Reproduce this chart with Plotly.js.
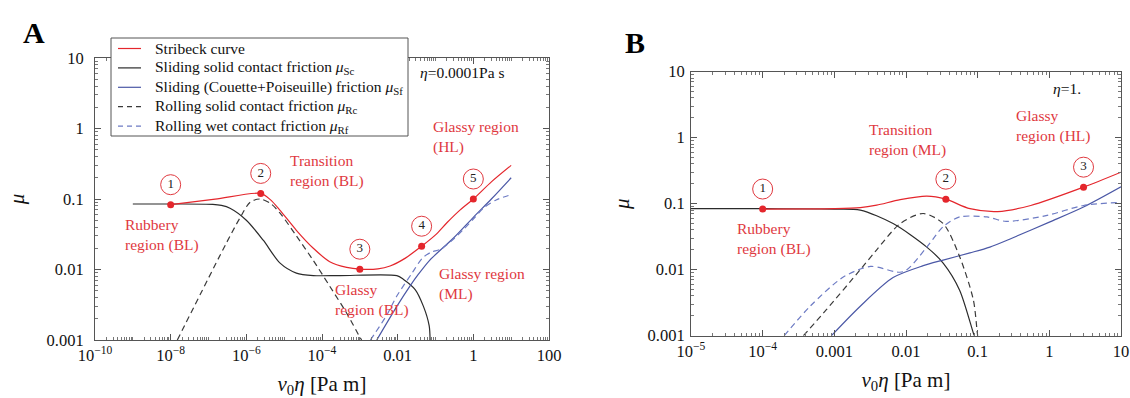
<!DOCTYPE html>
<html><head><meta charset="utf-8">
<script src="https://cdn.plot.ly/plotly-3.0.1.min.js"></script>
<style>html,body{margin:0;padding:0;background:#fff}#chart{width:1130px;height:398px}</style>
</head><body><div id="chart"></div>
<script>
// ---------- Panel A (eta = 0.0001 Pa s) ----------
const aStribeckX = [1e-8, 1.5e-7, 2.4e-6, 4.3e-6, 7.8e-6, 2.1e-5, 5.9e-5, 1.6e-4, 4.5e-4, 1e-3, 3e-3, 6.3e-3, 1.6e-2, 4.3e-2, 0.1, 0.2, 0.45, 1, 3, 10];
const aStribeckY = [0.083, 0.0995, 0.12, 0.098, 0.069, 0.036, 0.02, 0.0129, 0.0107, 0.0101, 0.0102, 0.0112, 0.0145, 0.0214, 0.031, 0.046, 0.07, 0.1, 0.175, 0.3];
const aScX = [1e-9, 1e-8, 1.3e-7, 2.2e-7, 3.7e-7, 1e-6, 2.8e-6, 7.8e-6, 2.1e-5, 5.9e-5, 3e-4, 9.5e-3, 1.4e-2, 2.9e-2, 4.8e-2, 6.8e-2, 7.2e-2];
const aScY = [0.085, 0.085, 0.084, 0.081, 0.074, 0.05, 0.026, 0.0123, 0.0089, 0.0082, 0.0082, 0.0082, 0.0073, 0.0052, 0.003, 0.0016, 0.001];
const aSfX = [2.8e-3, 9.5e-3, 0.022, 0.035, 0.07, 0.3, 1, 3, 10];
const aSfY = [0.001, 0.003, 0.006, 0.0085, 0.0135, 0.028, 0.055, 0.1, 0.2];
const aRcX = [1.5e-8, 3e-7, 6.8e-7, 1.26e-6, 2.3e-6, 4.3e-6, 7.8e-6, 2.1e-5, 5.9e-5, 1.6e-4, 4.5e-4, 1e-3, 1.12e-3];
const aRcY = [0.001, 0.024, 0.054, 0.09, 0.1, 0.087, 0.063, 0.03, 0.0134, 0.0058, 0.0024, 0.0011, 0.001];
const aRfX = [1.9e-3, 5e-3, 9.5e-3, 0.024, 0.045, 0.075, 0.14, 0.3, 0.55, 1, 1.9, 4, 8.5];
const aRfY = [0.001, 0.0022, 0.0042, 0.0089, 0.0145, 0.0175, 0.0195, 0.027, 0.037, 0.052, 0.075, 0.097, 0.112];
const aDotX = [1e-8, 2.4e-6, 1e-3, 4.3e-2, 1];
const aDotY = [0.083, 0.12, 0.0101, 0.0214, 0.1];
const aDotLabels = ['1', '2', '3', '4', '5'];
const aXTickVals = [1e-10, 1e-8, 1e-6, 1e-4, 1e-2, 1, 100];
const aXTickText = ['10<sup>\u221210</sup>', '10<sup>\u22128</sup>', '10<sup>\u22126</sup>', '10<sup>\u22124</sup>', '0.01', '1', '100'];

// ---------- Panel B (eta = 1) ----------
const bStribeckX = [1e-4, 1e-3, 2.3e-3, 3.9e-3, 8.3e-3, 0.0195, 0.036, 0.078, 0.19, 0.55, 3, 10];
const bStribeckY = [0.083, 0.084, 0.087, 0.095, 0.115, 0.13, 0.117, 0.084, 0.076, 0.094, 0.178, 0.3];
const bScX = [1e-5, 1e-4, 1e-3, 2.3e-3, 6.6e-3, 0.0195, 0.033, 0.056, 0.087, 0.09];
const bScY = [0.084, 0.084, 0.083, 0.08, 0.05, 0.022, 0.0126, 0.0049, 0.0011, 0.001];
const bSfX = [9.1e-4, 2.3e-3, 6.6e-3, 0.0174, 0.033, 0.078, 0.148, 0.3, 1.02, 3, 10];
const bSfY = [0.001, 0.0028, 0.0076, 0.0115, 0.014, 0.018, 0.022, 0.03, 0.053, 0.089, 0.18];
const bRcX = [3.7e-4, 7.8e-4, 2.3e-3, 3.9e-3, 8.3e-3, 0.0174, 0.033, 0.056, 0.087, 0.098, 0.1];
const bRcY = [0.001, 0.0025, 0.01, 0.02, 0.05, 0.071, 0.05, 0.0158, 0.0035, 0.0012, 0.001];
const bRfX = [2e-4, 4.6e-4, 1.35e-3, 3.2e-3, 9.1e-3, 0.0195, 0.033, 0.056, 0.135, 0.25, 0.9, 3, 10];
const bRfY = [0.001, 0.0028, 0.0078, 0.0112, 0.0093, 0.022, 0.045, 0.063, 0.063, 0.054, 0.066, 0.094, 0.105];
const bDotX = [1e-4, 0.036, 3];
const bDotY = [0.083, 0.117, 0.178];
const bDotLabels = ['1', '2', '3'];
const bXTickVals = [1e-5, 1e-4, 1e-3, 1e-2, 0.1, 1, 10];
const bXTickText = ['10<sup>\u22125</sup>', '10<sup>\u22124</sup>', '0.001', '0.01', '0.1', '1', '10'];

const yTickVals = [0.001, 0.01, 0.1, 1, 10];
const yTickText = ['0.001', '0.01', '0.1', '1', '10'];

const seriesNames = ['Stribeck curve',
  'Sliding solid contact friction <i>\u03bc</i><sub>Sc</sub>',
  'Sliding (Couette+Poiseuille) friction <i>\u03bc</i><sub>Sf</sub>',
  'Rolling solid contact friction <i>\u03bc</i><sub>Rc</sub>',
  'Rolling wet contact friction <i>\u03bc</i><sub>Rf</sub>'];

// ---------- styling ----------
const FONT = "'Liberation Serif', 'Times New Roman', serif";
const RED = '#e4262c', LRED = '#e0393f', BLACK = '#2b2b2b', DBLACK = '#3a3a3a', BLUE = '#4b58a6', DBLUE = '#6d7bc4';
const seriesColors = [RED, BLACK, BLUE, DBLACK, DBLUE];
const seriesDash = ['solid', 'solid', 'solid', '5px,4px', '5px,4px'];
const DASH = '6px,4px';

const W = 1130, H = 398;
const domA = {x: [95 / W, 549 / W], y: [1 - 340 / H, 1 - 58 / H]};
const domB = {x: [691 / W, 1121 / W], y: [1 - 335.7 / H, 1 - 71.7 / H]};
const CIRCLE_LIFT = 20; // px above the dot

function minorVals(lo, hi) {
  const v = [];
  for (let e = lo; e < hi; e++) for (let d = 1; d <= 9; d++) v.push(d * Math.pow(10, e));
  return v;
}

function lineTrace(x, y, color, dash, xa, ya) {
  return {x: x, y: y, type: 'scatter', mode: 'lines',
    line: {color: color, width: 1.2, dash: dash, shape: 'spline', smoothing: 0.8},
    xaxis: xa, yaxis: ya, showlegend: false, hoverinfo: 'skip'};
}
function dotTrace(x, y, xa, ya) {
  return {x: x, y: y, type: 'scatter', mode: 'markers', marker: {color: RED, size: 7},
    xaxis: xa, yaxis: ya, showlegend: false, hoverinfo: 'skip'};
}
function circleTrace(x, y, labels, dom, xa, ya) {
  const pxPerDecade = (dom.y[1] - dom.y[0]) * H / 4;
  const f = Math.pow(10, CIRCLE_LIFT / pxPerDecade);
  return {x: x, y: y.map(v => v * f), text: labels, type: 'scatter', mode: 'markers+text',
    textposition: 'middle center', textfont: {family: FONT, size: 13, color: '#222'},
    marker: {symbol: 'circle-open', size: 20, color: LRED, line: {width: 1, color: LRED}},
    xaxis: xa, yaxis: ya, showlegend: false, hoverinfo: 'skip', cliponaxis: false};
}

const traces = [
  lineTrace(aScX, aScY, BLACK, 'solid', 'x', 'y'),
  lineTrace(aSfX, aSfY, BLUE, 'solid', 'x', 'y'),
  lineTrace(aRcX, aRcY, DBLACK, DASH, 'x', 'y'),
  lineTrace(aRfX, aRfY, DBLUE, DASH, 'x', 'y'),
  lineTrace(aStribeckX, aStribeckY, RED, 'solid', 'x', 'y'),
  dotTrace(aDotX, aDotY, 'x', 'y'),
  circleTrace(aDotX, aDotY, aDotLabels, domA, 'x', 'y'),
  lineTrace(bScX, bScY, BLACK, 'solid', 'x2', 'y2'),
  lineTrace(bSfX, bSfY, BLUE, 'solid', 'x2', 'y2'),
  lineTrace(bRcX, bRcY, DBLACK, DASH, 'x2', 'y2'),
  lineTrace(bRfX, bRfY, DBLUE, DASH, 'x2', 'y2'),
  lineTrace(bStribeckX, bStribeckY, RED, 'solid', 'x2', 'y2'),
  dotTrace(bDotX, bDotY, 'x2', 'y2'),
  circleTrace(bDotX, bDotY, bDotLabels, domB, 'x2', 'y2')
];

function axis(extra) {
  return Object.assign({
    type: 'log', showline: true, linecolor: '#555', linewidth: 1, mirror: 'ticks',
    ticks: 'inside', ticklen: 6, tickcolor: '#555', showgrid: false, zeroline: false,
    tickmode: 'array', tickfont: {family: FONT, size: 16.5, color: '#111'}
  }, extra);
}
function minor(lo, hi) {
  return {ticks: 'inside', ticklen: 3, tickcolor: '#777', tickmode: 'array', tickvals: minorVals(lo, hi), showgrid: false};
}

const xTitle = '<i>v</i><sub>0</sub><i>\u03b7</i> [Pa m]';
const yTitle = '<i>\u03bc</i>';
const titleFont = {family: FONT, size: 21, color: '#111'};

const annotations = [];
const shapes = [];

function label(text, xa, ya, x, y, color) {
  annotations.push({xref: xa, yref: ya, x: x, y: y, text: text, showarrow: false,
    xanchor: 'left', yanchor: 'middle', align: 'left',
    font: {family: FONT, size: 15.5, color: color || LRED}});
}
label('Rubbery<br>region (BL)', 'x', 'y', -9.25, -1.51);
label('Transition<br>region (BL)', 'x', 'y', -4.9, -0.60);
label('Glassy<br>region (BL)', 'x', 'y', -3.71, -2.43);
label('Glassy region<br>(ML)', 'x', 'y', -0.96, -2.20);
label('Glassy region<br>(HL)', 'x', 'y', -1.12, -0.12);
label('<i>\u03b7</i>=0.0001Pa s', 'x', 'y', -1.45, 0.80, '#111');
label('Rubbery<br>region (BL)', 'x2', 'y2', -4.38, -1.54);
label('Transition<br>region (ML)', 'x2', 'y2', -2.55, -0.04);
label('Glassy<br>region (HL)', 'x2', 'y2', -0.5, 0.17);
label('<i>\u03b7</i>=1.', 'x2', 'y2', 0.02, 0.75, '#111');

annotations.push({xref: 'paper', yref: 'paper', x: 34 / W, y: 1 - 32 / H, xanchor: 'center', yanchor: 'middle',
  text: '<b>A</b>', showarrow: false, font: {family: FONT, size: 30, color: '#000'}});
annotations.push({xref: 'paper', yref: 'paper', x: 635 / W, y: 1 - 42 / H, xanchor: 'center', yanchor: 'middle',
  text: '<b>B</b>', showarrow: false, font: {family: FONT, size: 30, color: '#000'}});

// ---------- legend box (panel A) ----------
const LEG = {left: 111, top: 38, right: 408, bottom: 136, row0: 48.5, pitch: 19.4, lineL: 118, lineR: 141, textL: 153};
shapes.push({type: 'rect', xref: 'paper', yref: 'paper', layer: 'above',
  x0: LEG.left / W, x1: LEG.right / W, y0: 1 - LEG.bottom / H, y1: 1 - LEG.top / H,
  line: {color: '#555', width: 1}, fillcolor: '#fff'});
seriesNames.forEach((name, i) => {
  const yc = 1 - (LEG.row0 + i * LEG.pitch) / H;
  shapes.push({type: 'line', xref: 'paper', yref: 'paper', layer: 'above',
    x0: LEG.lineL / W, x1: LEG.lineR / W, y0: yc, y1: yc,
    line: {color: seriesColors[i], width: 1.2, dash: seriesDash[i]}});
  annotations.push({xref: 'paper', yref: 'paper', x: LEG.textL / W, y: yc, xanchor: 'left', yanchor: 'middle',
    text: name, showarrow: false, font: {family: FONT, size: 15.5, color: '#111'}});
});

const layout = {
  width: W, height: H, margin: {l: 0, r: 0, t: 0, b: 0},
  paper_bgcolor: '#fff', plot_bgcolor: '#fff',
  font: {family: FONT, color: '#111'},
  showlegend: false,
  xaxis: axis({domain: domA.x, range: [-10, 2], tickvals: aXTickVals, ticktext: aXTickText, minor: minor(-10, 2),
    title: {text: xTitle, font: titleFont, standoff: 28}, anchor: 'y'}),
  yaxis: axis({domain: domA.y, range: [-3, 1], tickvals: yTickVals, ticktext: yTickText, minor: minor(-3, 1),
    title: {text: yTitle, font: titleFont, standoff: 16}, anchor: 'x', ticklabelstandoff: 7}),
  xaxis2: axis({domain: domB.x, range: [-5, 1], tickvals: bXTickVals, ticktext: bXTickText, minor: minor(-5, 1),
    title: {text: xTitle, font: titleFont, standoff: 12}, anchor: 'y2'}),
  yaxis2: axis({domain: domB.y, range: [-3, 1], tickvals: yTickVals, ticktext: yTickText, minor: minor(-3, 1),
    title: {text: yTitle, font: titleFont, standoff: 12}, anchor: 'x2', ticklabelstandoff: 2}),
  annotations: annotations, shapes: shapes
};

Plotly.newPlot('chart', traces, layout, {staticPlot: true, displayModeBar: false});
</script>
</body></html>
